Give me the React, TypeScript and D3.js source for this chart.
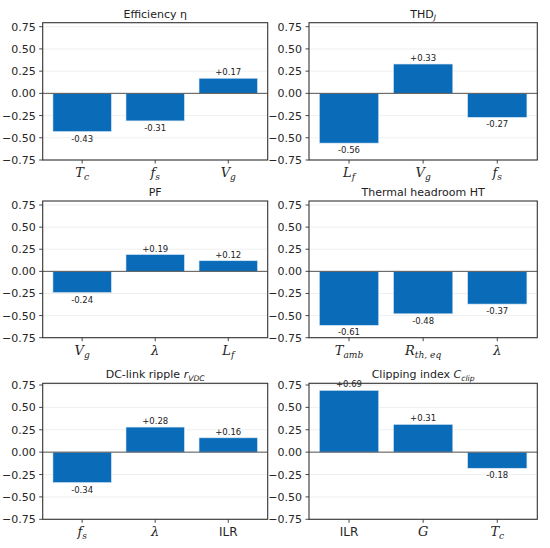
import React from "react";
import * as d3 from "d3";

// ---- data ----
type Lbl = { b: string; s?: string; it?: boolean };
const titles: Lbl[][] = [
  [{ b: "Efficiency η" }],
  [{ b: "THD" }, { b: "", s: "J" }],
  [{ b: "PF" }],
  [{ b: "Thermal headroom HT" }],
  [{ b: "DC-link ripple " }, { b: "r", s: "VDC", it: true }],
  [{ b: "Clipping index " }, { b: "C", s: "clip", it: true }],
];
const effCats: Lbl[] = [{ b: "T", s: "c", it: true }, { b: "f", s: "s", it: true }, { b: "V", s: "g", it: true }];
const effVals = [-0.43, -0.31, 0.17];
const thdCats: Lbl[] = [{ b: "L", s: "f", it: true }, { b: "V", s: "g", it: true }, { b: "f", s: "s", it: true }];
const thdVals = [-0.56, 0.33, -0.27];
const pfCats: Lbl[] = [{ b: "V", s: "g", it: true }, { b: "λ", it: true }, { b: "L", s: "f", it: true }];
const pfVals = [-0.24, 0.19, 0.12];
const htCats: Lbl[] = [{ b: "T", s: "amb", it: true }, { b: "R", s: "th, eq", it: true }, { b: "λ", it: true }];
const htVals = [-0.61, -0.48, -0.37];
const dcCats: Lbl[] = [{ b: "f", s: "s", it: true }, { b: "λ", it: true }, { b: "ILR" }];
const dcVals = [-0.34, 0.28, 0.16];
const clipCats: Lbl[] = [{ b: "ILR" }, { b: "G", it: true }, { b: "T", s: "c", it: true }];
const clipVals = [0.69, 0.31, -0.18];
const yTicks = [-0.75, -0.5, -0.25, 0, 0.25, 0.5, 0.75];

const panels = [
  { cats: effCats, vals: effVals },
  { cats: thdCats, vals: thdVals },
  { cats: pfCats, vals: pfVals },
  { cats: htCats, vals: htVals },
  { cats: dcCats, vals: dcVals },
  { cats: clipCats, vals: clipVals },
];

// ---- layout ----
const cols = [
  { left: 42.7, right: 267.7 },
  { left: 309, right: 537.3 },
];
const rows = [
  { top: 22.7, y75: 26.7, yN75: 160 },
  { top: 201, y75: 205, yN75: 337.7 },
  { top: 383.3, y75: 385, yN75: 519.3 },
];
const BAR = "#0a6cb8";
const SANS = "DejaVu Sans";
const SERIF = "DejaVu Serif";

function MathLabel({ parts, fam, size, subFam }: { parts: Lbl[]; fam: string; size: number; subFam?: string }) {
  const out: React.ReactNode[] = [];
  parts.forEach((p, i) => {
    if (p.b)
      out.push(
        <tspan key={i + "b"} fontFamily={p.it ? subFam || fam : fam} fontStyle={p.it ? "italic" : "normal"}>
          {p.b}
        </tspan>
      );
    if (p.s)
      out.push(
        <tspan key={i + "s"} fontSize={size * 0.7} dy={size * 0.22} fontFamily={subFam || fam} fontStyle="italic">
          {p.s}
        </tspan>
      );
    if (p.s && i < parts.length - 1) out.push(<tspan key={i + "r"} dy={-size * 0.22}></tspan>);
  });
  return <>{out}</>;
}

function Panel({ idx }: { idx: number }) {
  const c = cols[idx % 2];
  const r = rows[Math.floor(idx / 2)];
  const { cats, vals } = panels[idx];
  const bottom = r.yN75;
  const x = d3.scaleLinear().domain([-0.54, 2.54]).range([c.left, c.right]);
  const y = d3.scaleLinear().domain([-0.75, 0.75]).range([r.yN75, r.y75]);
  const bw = x(0.8) - x(0);
  const cx = (c.left + c.right) / 2;
  return (
    <g>
      {yTicks.map((t) => (
        <line key={"g" + t} x1={c.left} x2={c.right} y1={y(t)} y2={y(t)} stroke="#ebebeb" strokeWidth={0.8} />
      ))}
      {vals.map((v, i) => (
        <rect
          key={"b" + i}
          x={x(i) - bw / 2}
          width={bw}
          y={Math.min(y(v), y(0))}
          height={Math.abs(y(v) - y(0))}
          fill={BAR}
          stroke="#d6e6f5"
          strokeWidth={0.6}
        />
      ))}
      <line x1={c.left} x2={c.right} y1={y(0)} y2={y(0)} stroke="#555" strokeWidth={1} />
      {vals.map((v, i) => (
        <text
          key={"v" + i}
          x={x(i)}
          y={v >= 0 ? y(v) - 3 : y(v) + 10}
          textAnchor="middle"
          fontFamily={SANS}
          fontSize={8.5}
          fill="#222"
        >
          {(v >= 0 ? "+" : "-") + Math.abs(v).toFixed(2)}
        </text>
      ))}
      <rect x={c.left} y={r.top} width={c.right - c.left} height={bottom - r.top} fill="none" stroke="#333" strokeWidth={1.1} />
      {yTicks.map((t) => (
        <g key={"t" + t}>
          <line x1={c.left - 3.5} x2={c.left} y1={y(t)} y2={y(t)} stroke="#333" strokeWidth={0.9} />
          <text x={c.left - 7} y={y(t) + 4} textAnchor="end" fontFamily={SANS} fontSize={11} fill="#262626">
            {d3.format(".2f")(t).replace("-", "−")}
          </text>
        </g>
      ))}
      {cats.map((cat, i) => (
        <g key={"x" + i}>
          <line x1={x(i)} x2={x(i)} y1={bottom} y2={bottom + 3.5} stroke="#333" strokeWidth={0.9} />
          <text
            x={x(i)}
            y={bottom + 17}
            textAnchor="middle"
            fontSize={cat.it ? 13 : 12}
            fontFamily={cat.it ? SERIF : SANS}
            fill="#262626"
          >
            <MathLabel parts={[cat]} fam={cat.it ? SERIF : SANS} size={cat.it ? 13 : 12} />
          </text>
        </g>
      ))}
      <text x={cx} y={r.top - 5} textAnchor="middle" fontFamily={SANS} fontSize={11} fill="#222">
        <MathLabel parts={titles[idx]} fam={SANS} size={11} subFam={SANS} />
      </text>
    </g>
  );
}

export default function App() {
  return (
    <svg
      width={550}
      height={548}
      style={{ position: "absolute", left: 0, top: 0, background: "#fff" }}
      xmlns="http://www.w3.org/2000/svg"
    >
      <rect width={550} height={548} fill="#fff" />
      {panels.map((_, i) => (
        <Panel key={i} idx={i} />
      ))}
    </svg>
  );
}
